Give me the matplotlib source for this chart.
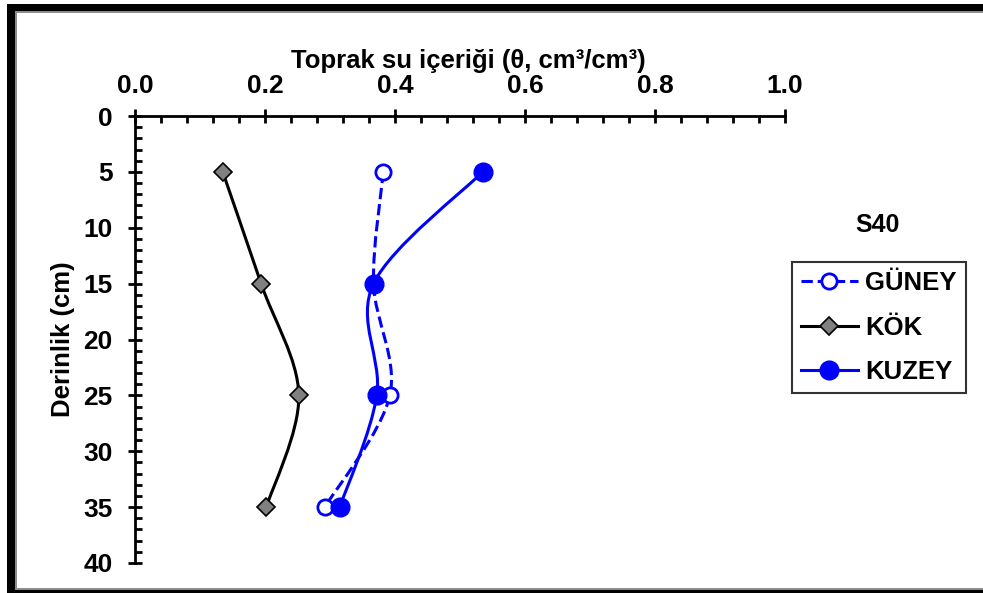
import numpy as np
import matplotlib
matplotlib.use('Agg')
import matplotlib.pyplot as plt
from matplotlib.path import Path
from matplotlib.patches import PathPatch, Rectangle
from matplotlib.lines import Line2D

plt.rcParams['font.family'] = ['Liberation Sans', 'DejaVu Sans']
plt.rcParams['font.weight'] = 'bold'

depth = [5, 15, 25, 35]
guney = [0.382, 0.367, 0.392, 0.292]
kok = [0.135, 0.194, 0.252, 0.202]
kuzey = [0.535, 0.367, 0.372, 0.315]
series_names = ['GÜNEY', 'KÖK', 'KUZEY']
panel_label = 'S40'
x_title = 'Toprak su içeriği (θ, cm³/cm³)'
y_title = 'Derinlik (cm)'

W, H = 983, 593


def smooth_path(xs, ys):
    # excel-like smoothed line: catmull-rom as cubic bezier segments
    pts = np.column_stack([xs, ys]).astype(float)
    n = len(pts)
    verts = [pts[0]]
    codes = [Path.MOVETO]
    for i in range(n - 1):
        p0 = pts[i - 1] if i > 0 else pts[i]
        p1 = pts[i]
        p2 = pts[i + 1]
        p3 = pts[i + 2] if i + 2 < n else pts[i + 1]
        c1 = p1 + (p2 - p0) / 6.0
        c2 = p2 - (p3 - p1) / 6.0
        verts += [c1, c2, p2]
        codes += [Path.CURVE4] * 3
    return Path(verts, codes)


def px_rect(x0, y0, x1, y1, color):
    # rectangle given in image pixels (top-left origin)
    return Rectangle((x0 / W, 1 - y1 / H), (x1 - x0) / W, (y1 - y0) / H,
                     transform=fig.transFigure, facecolor=color, edgecolor='none', zorder=-5)


fig = plt.figure(figsize=(W / 100, H / 100), dpi=100)
ax = fig.add_axes([135 / W, 1 - 563 / H, 650 / W, 447 / H])

styles = [
    (guney, dict(color='#0000FF', ls='--', lw=2.2), dict(marker='o', ms=11, mfc='white', mec='#0000FF', mew=2)),
    (kok, dict(color='black', ls='-', lw=2.2), dict(marker='D', ms=9.5, mfc='#808080', mec='black', mew=1.2)),
    (kuzey, dict(color='#0000FF', ls='-', lw=2.2), dict(marker='o', ms=13.5, mfc='#0000FF', mec='#0000FF', mew=1)),
]
handles = []
for (vals, lst, mst), name in zip(styles, series_names):
    patch = PathPatch(smooth_path(vals, depth), facecolor='none', edgecolor=lst['color'],
                      linestyle=lst['ls'], linewidth=lst['lw'], zorder=2)
    ax.add_patch(patch)
for (vals, lst, mst), name in zip(styles, series_names):
    ax.plot(vals, depth, ls='none', zorder=3, **mst)
    handles.append(Line2D([], [], color=lst['color'], ls=lst['ls'], lw=lst['lw'], **mst))

ax.set_xlim(0, 1.0)
ax.set_ylim(40, 0)
ax.xaxis.tick_top()
ax.set_xticks(np.arange(0, 1.01, 0.2))
ax.set_xticks(np.arange(0, 1.001, 0.04), minor=True)
ax.set_yticks(np.arange(0, 41, 5))
ax.set_yticks(np.arange(0, 41, 1), minor=True)
ax.set_xticklabels([f'{v:.1f}' for v in np.arange(0, 1.01, 0.2)])
ax.tick_params(which='major', direction='inout', length=10, width=2, labelsize=19)
ax.tick_params(axis='x', which='major', pad=8)
ax.tick_params(axis='y', which='major', pad=11)
ax.tick_params(which='minor', direction='in', length=5, width=2)
for s in ['right', 'bottom']:
    ax.spines[s].set_visible(False)
for s in ['left', 'top']:
    ax.spines[s].set_linewidth(2)
ax.set_ylabel(y_title, fontsize=18.5, fontweight='bold', labelpad=6)
ax.set_facecolor('none')

fig.text(468 / W, 1 - 68 / H, x_title, ha='center', va='baseline', fontsize=18.5, fontweight='bold')
fig.text(877 / W, 1 - 225 / H, panel_label, ha='center', va='center', fontsize=18, fontweight='bold')
leg = fig.legend(handles, series_names, loc='upper left', bbox_to_anchor=(792 / W, 1 - 262 / H),
                 frameon=True, fancybox=False, edgecolor='black', fontsize=18.5, handlelength=2.2,
                 handletextpad=0.3, borderpad=0.35, labelspacing=0.8, borderaxespad=0)
leg.get_frame().set_linewidth(1.5)
for t in leg.get_texts():
    t.set_fontweight('bold')

# frame around the picture: black band, thin grey line inside
fig.patches.append(px_rect(7, 4, W, 11, 'black'))
fig.patches.append(px_rect(7, 4, 15, H, 'black'))
fig.patches.append(px_rect(7, 590, W, H, 'black'))
fig.patches.append(px_rect(15, 11, W, 13, '#8c8c8c'))
fig.patches.append(px_rect(15, 11, 17, 590, '#8c8c8c'))
fig.patches.append(px_rect(15, 588, W, 590, '#8c8c8c'))

plt.savefig('out.png', dpi=100)
plt.close()
